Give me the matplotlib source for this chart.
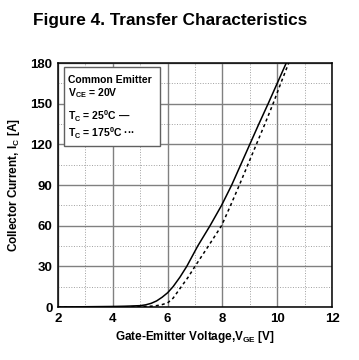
import numpy as np
import matplotlib
matplotlib.use('Agg')
import matplotlib.pyplot as plt
from matplotlib.patches import Rectangle

plt.rcParams['font.family'] = ['Liberation Sans', 'DejaVu Sans']
plt.rcParams['font.weight'] = 'bold'
plt.rcParams['mathtext.fontset'] = 'custom'
plt.rcParams['mathtext.rm'] = 'Liberation Sans:bold'
plt.rcParams['mathtext.bf'] = 'Liberation Sans:bold'
plt.rcParams['mathtext.default'] = 'rm'

##### Data #####

# Tc = 25 C (solid)
v25 = [2, 3, 4, 4.5, 5.0, 5.2, 5.4, 5.6, 5.8, 6.0, 6.2, 6.45, 6.7, 7.1, 7.55,
       7.97, 8.34, 8.67, 9.0, 9.33, 9.67, 10.0, 10.33]
i25 = [0, 0.2, 0.4, 0.6, 1.0, 1.6, 2.7, 4.5, 7.2, 10.5, 15, 22, 30, 45, 60,
       75, 90, 105, 120, 135, 150, 165, 180]

# Tc = 175 C (dotted)
v175 = [2, 3, 4, 5, 5.4, 5.6, 5.8, 6.0, 6.2, 6.5, 6.75, 7.0, 7.49, 7.97, 8.3,
        8.62, 8.93, 9.24, 9.55, 9.85, 10.13, 10.42]
i175 = [0, 0, 0.1, 0.3, 0.6, 1.0, 1.8, 3.0, 6.5, 15, 22, 30, 45, 60, 75,
        90, 105, 120, 135, 150, 165, 180]

xticks = [2, 4, 6, 8, 10, 12]
yticks = [0, 30, 60, 90, 120, 150, 180]

legend_lines = ['Common Emitter', 'V$_{CE}$ = 20V',
                'T$_C$ = 25$^0$C \u2014', 'T$_C$ = 175$^0$C \u00b7\u00b7\u00b7']

#######################################

fig = plt.figure(figsize=(3.59, 3.6), dpi=100)
ax = fig.add_axes([58/359., 1-307/360., 274/359., 244/360.])

ax.plot(v25, i25, color='black', lw=1.1, zorder=3)
ax.plot(v175, i175, color='black', lw=1.1, ls=(0, (2, 2)), zorder=3)

ax.set_xlim(2, 12)
ax.set_ylim(0, 180)
ax.set_xticks(xticks)
ax.set_yticks(yticks)
ax.set_xticks(np.arange(3, 12, 2), minor=True)
ax.set_yticks(np.arange(15, 180, 30), minor=True)
ax.grid(True, which='major', color='#808080', lw=1.0, ls='-')
ax.grid(True, which='minor', color='#a0a0a0', lw=0.7, ls=':')
ax.tick_params(which='both', length=0, labelsize=9.5, pad=4)
for lab in ax.get_xticklabels() + ax.get_yticklabels():
    lab.set_fontweight('bold')
for s in ax.spines.values():
    s.set_linewidth(1.1)
    s.set_color('black')

ax.set_xlabel('Gate-Emitter Voltage,V$_{GE}$ [V]', fontsize=8.5, fontweight='bold', labelpad=3)
ax.set_ylabel('Collector Current, I$_C$ [A]', fontsize=8.5, fontweight='bold', labelpad=6)

fig.text(0.474, 0.943, 'Figure 4. Transfer Characteristics', fontsize=12.4,
         fontweight='bold', ha='center', va='center')

# legend box
box = Rectangle((6.3/274., 1-(66.7-63)/244.), (160-64.3)/274., -(145.7-66.7)/244.,
                transform=ax.transAxes, facecolor='white', edgecolor='#606060',
                lw=1.0, zorder=4)
ax.add_patch(box)
ys = [80, 93.3, 116.7, 133]
for txt, yp in zip(legend_lines, ys):
    ax.text(9.5/274., 1-(yp-63)/244., txt, transform=ax.transAxes, fontsize=7.5,
            fontweight='bold', va='center', ha='left', zorder=5)

fig.savefig('out.png', dpi=100)
